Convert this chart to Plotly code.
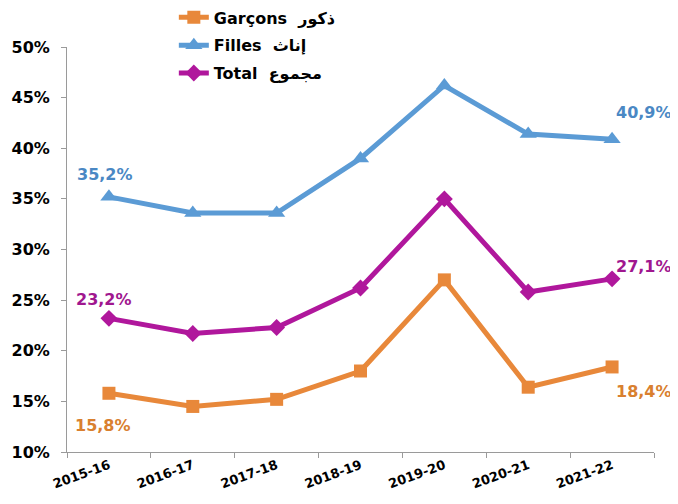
import plotly.graph_objects as go

years = ["2015-16", "2016-17", "2017-18", "2018-19", "2019-20", "2020-21", "2021-22"]
garcons = [15.8, 14.5, 15.2, 18.0, 27.0, 16.4, 18.4]
filles = [35.2, 33.6, 33.6, 39.0, 46.2, 41.4, 40.9]
total = [23.2, 21.7, 22.3, 26.2, 35.0, 25.8, 27.1]

names = ["Garçons  ذكور", "Filles  إناث", "Total  مجموع"]
colors = ["#E8883A", "#5B9BD5", "#B0179C"]
label_colors = ["#D9802F", "#4A88C4", "#A0178F"]
symbols = ["square", "triangle-up", "diamond"]
marker_sizes = [13, 15, 13]
series = [garcons, filles, total]

FONT = "DejaVu Sans, Liberation Sans, Arial"

fig = go.Figure()
for i, (s, n, c, m, ms) in enumerate(zip(series, names, colors, symbols, marker_sizes)):
    fig.add_trace(go.Scatter(
        x=years, y=s, name=n, mode="lines+markers", legendgroup=f"g{i}",
        line=dict(color=c, width=5),
        marker=dict(symbol=m, size=ms, color=c),
    ))

# first/last labels: (xshift, yshift) per series
first_shift = [(-6, -32), (-4, 22), (-5, 19)]
last_shift = [(32, -25), (32, 27), (32, 12)]
for s, lc, fs, ls in zip(series, label_colors, first_shift, last_shift):
    for idx, sh in ((0, fs), (len(s) - 1, ls)):
        fig.add_annotation(
            x=years[idx], y=s[idx], text=f"{s[idx]:.1f}%".replace(".", ","),
            showarrow=False, xshift=sh[0], yshift=sh[1],
            font=dict(family=FONT, size=16, color=lc, weight="bold"),
        )

# page body has an 8px margin: figure is drawn offset by 8px
fig.update_layout(
    width=670, height=496,
    margin=dict(l=59, r=24, t=39, b=52, autoexpand=False),
    plot_bgcolor="white", paper_bgcolor="white",
    font=dict(family=FONT, size=15, color="black"),
    legend=dict(
        x=0.182, y=1.115, xanchor="left", yanchor="top",
        font=dict(size=16, weight="bold", family=FONT), tracegroupgap=4,
        traceorder="grouped", bgcolor="rgba(0,0,0,0)",
    ),
    showlegend=True,
)
fig.update_xaxes(
    type="category", tickson="boundaries", ticks="outside", ticklen=5,
    showline=True, linecolor="#9a9a9a", linewidth=1, tickcolor="#9a9a9a",
    showgrid=False, tickangle=-20, automargin=False,
    tickfont=dict(size=13, weight="bold", family=FONT),
    range=[-0.5, 6.5],
)
fig.update_yaxes(
    range=[10, 50], dtick=5, ticksuffix="%", ticks="outside", ticklen=5,
    showline=True, linecolor="#9a9a9a", linewidth=1, tickcolor="#9a9a9a",
    showgrid=False, zeroline=False, automargin=False, ticklabelstandoff=8,
    tickfont=dict(size=16, weight="bold", family=FONT),
)

fig.write_html("out.html")
